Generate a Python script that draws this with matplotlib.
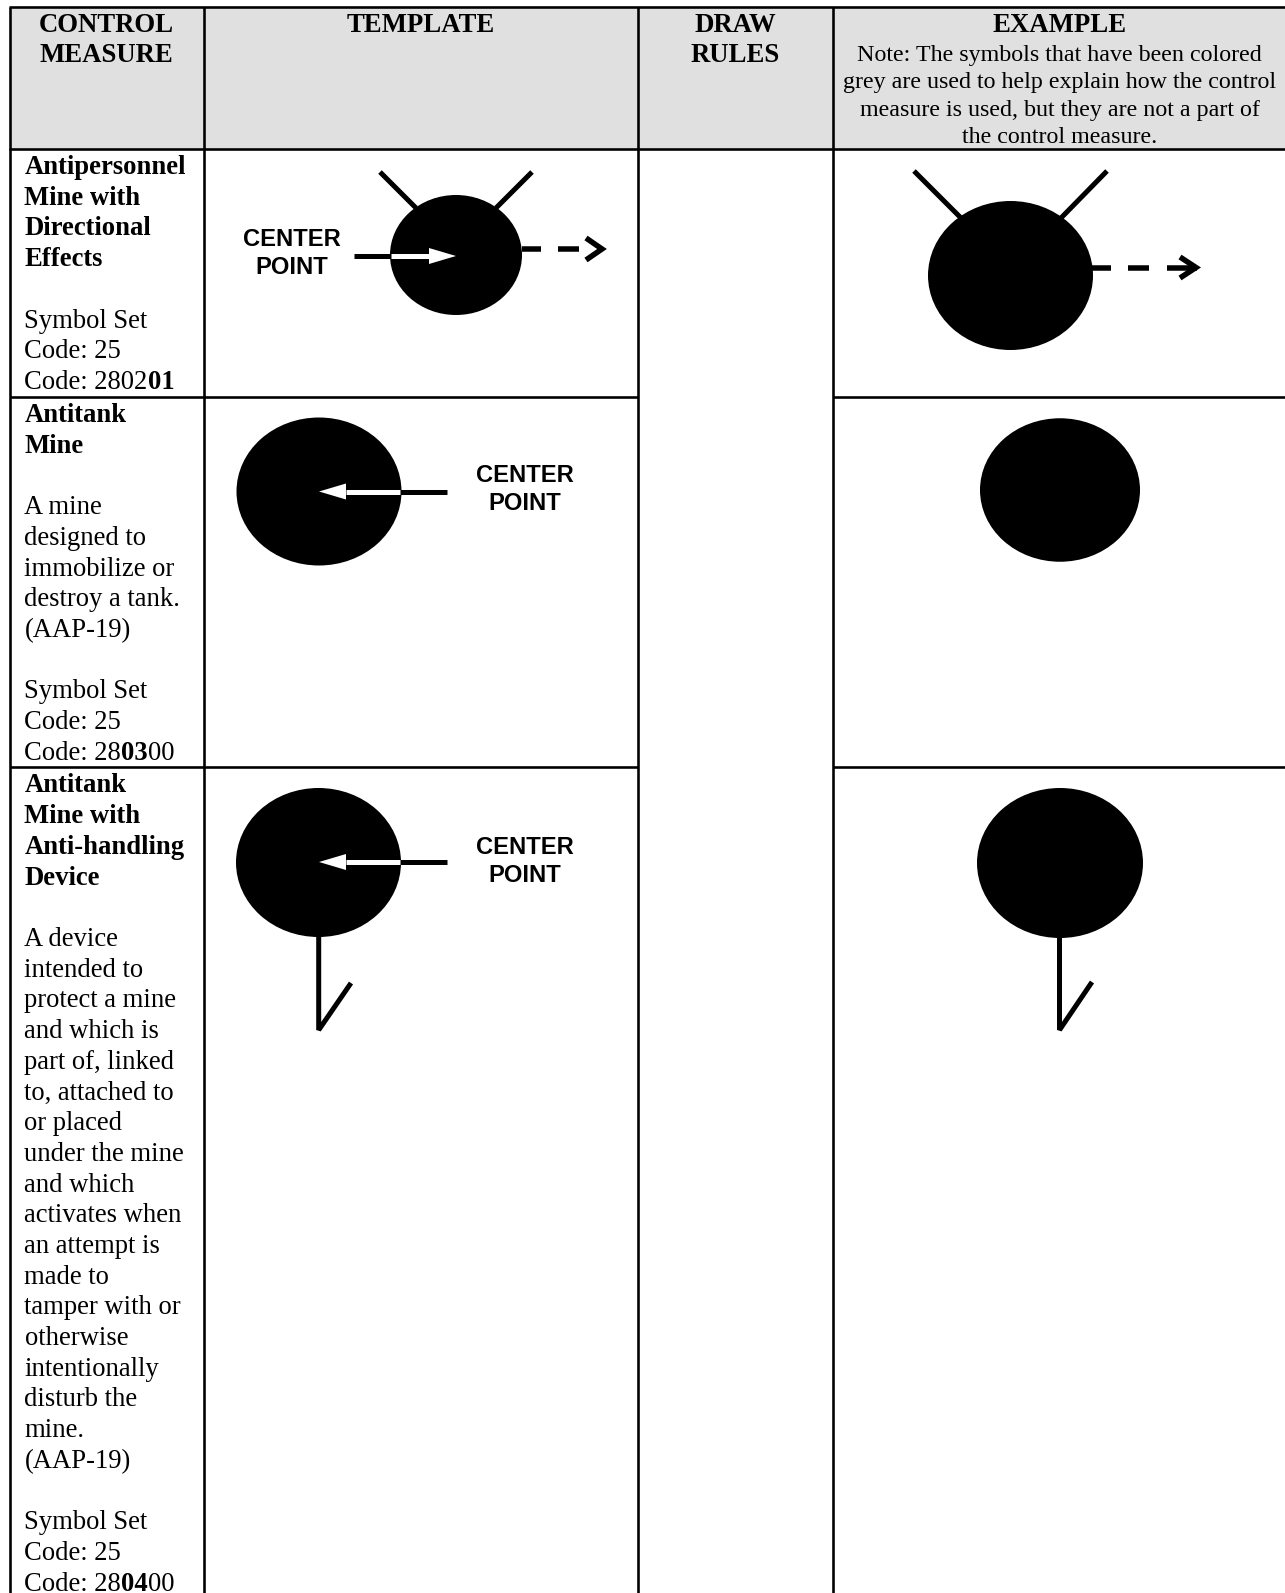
import matplotlib
matplotlib.use('Agg')
import matplotlib.pyplot as plt
from matplotlib.patches import Ellipse, Rectangle, Polygon

W, H = 1285, 1593
DPI = 100
SERIF = 'Liberation Serif'
SANS = 'Liberation Sans'

# header text
header_titles = [['CONTROL', 'MEASURE'], ['TEMPLATE'], ['DRAW', 'RULES'], ['EXAMPLE']]
header_x = [106.5, 421, 735, 1059.5]
note_lines = ['Note: The symbols that have been colored',
              'grey are used to help explain how the control',
              'measure is used, but they are not a part of',
              'the control measure.']

# left column, pieces are (text, bold)
row1_lines = [[('Antipersonnel', True)], [('Mine with', True)], [('Directional', True)], [('Effects', True)], [],
              [('Symbol Set', False)], [('Code: 25', False)], [('Code: 2802', False), ('01', True)]]
row2_lines = [[('Antitank', True)], [('Mine', True)], [],
              [('A mine', False)], [('designed to', False)], [('immobilize or', False)],
              [('destroy a tank.', False)], [('(AAP-19)', False)], [],
              [('Symbol Set', False)], [('Code: 25', False)],
              [('Code: 28', False), ('03', True), ('00', False)]]
row3_body = ['A device', 'intended to', 'protect a mine', 'and which is', 'part of, linked',
             'to, attached to', 'or placed', 'under the mine', 'and which', 'activates when',
             'an attempt is', 'made to', 'tamper with or', 'otherwise', 'intentionally',
             'disturb the', 'mine.', '(AAP-19)']
row3_lines = ([[('Antitank', True)], [('Mine with', True)], [('Anti-handling', True)], [('Device', True)], []]
              + [[(t, False)] for t in row3_body]
              + [[], [('Symbol Set', False)], [('Code: 25', False)],
                 [('Code: 28', False), ('04', True), ('00', False)]])
row_baselines = [174, 422, 792.5]

# table rules
col_x = [10, 204, 637.5, 833]
top_y, header_y, row2_y, row3_y = 6.5, 148.5, 397, 767

# mine bodies: cx, cy, w, h
template_mines = [(456, 255, 132, 120), (319, 491.5, 165, 148), (318.5, 862.5, 165, 149)]
example_mines = [(1010.5, 275.5, 165, 149), (1060, 490, 160, 143.5), (1060, 863, 166, 150)]

fig = plt.figure(figsize=(W / DPI, H / DPI), dpi=DPI)
ax = fig.add_axes([0, 0, 1, 1])
ax.set_xlim(0, W)
ax.set_ylim(H, 0)
ax.axis('off')


def px(v):
    return v * 72 / DPI


def seg(xs, ys, width=5, color='black', z=3, join='bevel'):
    ax.plot(xs, ys, color=color, lw=px(width), solid_capstyle='butt', solid_joinstyle=join, zorder=z)


def mine(m):
    ax.add_patch(Ellipse((m[0], m[1]), m[2], m[3], fc='black', ec='none', zorder=2))


def label_center(x, y1, y2):
    for t, y in [('CENTER', y1), ('POINT', y2)]:
        ax.text(x, y, t, family=SANS, weight='bold', fontsize=px(23.8), ha='center', va='center')


def white_arrow(x_from, x_base, x_tip, y):
    seg([x_from, x_base], [y, y], width=5, color='white', z=4)
    ax.add_patch(Polygon([(x_base, y - 8), (x_tip, y), (x_base, y + 8)], fc='white', ec='none', zorder=4))


# header band and rules
ax.add_patch(Rectangle((col_x[0], top_y), W - col_x[0], header_y - top_y, fc='#e0e0e0', ec='none', zorder=0))
seg([col_x[0] - 1.5, W], [top_y, top_y], width=2.6)
seg([col_x[0] - 1.5, W], [header_y, header_y], width=2.6)
for y in [row2_y, row3_y]:
    seg([col_x[0], col_x[2]], [y, y], width=2.6)
    seg([col_x[3], W], [y, y], width=2.6)
for x in col_x:
    seg([x, x], [top_y, H], width=2.6)

# header text
for x, lines in zip(header_x, header_titles):
    for i, t in enumerate(lines):
        ax.text(x, 32 + i * 30, t, family=SERIF, weight='bold', fontsize=px(26.7), ha='center', va='baseline')
for i, t in enumerate(note_lines):
    ax.text(1059.5, 61 + i * 27.4, t, family=SERIF, fontsize=px(24), ha='center', va='baseline')

# left column
renderer = fig.canvas.get_renderer()
for start, lines in zip(row_baselines, [row1_lines, row2_lines, row3_lines]):
    for i, pieces in enumerate(lines):
        x = 24.5
        for t, bold in pieces:
            txt = ax.text(x, start + i * 30.7, t, family=SERIF, weight='bold' if bold else 'normal',
                          fontsize=px(26.6), ha='left', va='baseline')
            x += txt.get_window_extent(renderer).width

# template, first row
mine(template_mines[0])
seg([380, 416], [172, 208], width=5)
seg([532, 496], [172, 208], width=5)
seg([354, 391], [256, 256])
white_arrow(391, 429, 456, 256)
seg([522, 541], [249, 249], width=5.5)
seg([557.5, 579], [249, 249], width=5.5)
seg([586, 602, 586], [238, 249, 260], width=5.5, join='miter')
label_center(292, 240, 268)

# template, second and third rows
mine(template_mines[1])
seg([400, 447], [491.5, 491.5])
white_arrow(400, 346, 319, 491.5)
label_center(525, 476, 504)

mine(template_mines[2])
seg([400, 447], [862, 862])
white_arrow(400, 346, 319, 862)
label_center(525, 848, 875)
seg([318.7, 318.7, 351], [936, 1030, 983], width=5)

# examples
mine(example_mines[0])
seg([914, 961], [171, 218], width=5)
seg([1107, 1061], [171, 218], width=5)
seg([1092, 1111], [267.5, 267.5], width=5.5)
seg([1128, 1149], [267.5, 267.5], width=5.5)
seg([1166.5, 1197], [267.5, 267.5], width=5.5)
seg([1180, 1196, 1180], [257, 267.5, 278], width=5.5, join='miter')

mine(example_mines[1])

mine(example_mines[2])
seg([1059.5, 1059.5, 1092], [937, 1030, 982], width=5)

fig.savefig('out.png', dpi=DPI, facecolor='white')
